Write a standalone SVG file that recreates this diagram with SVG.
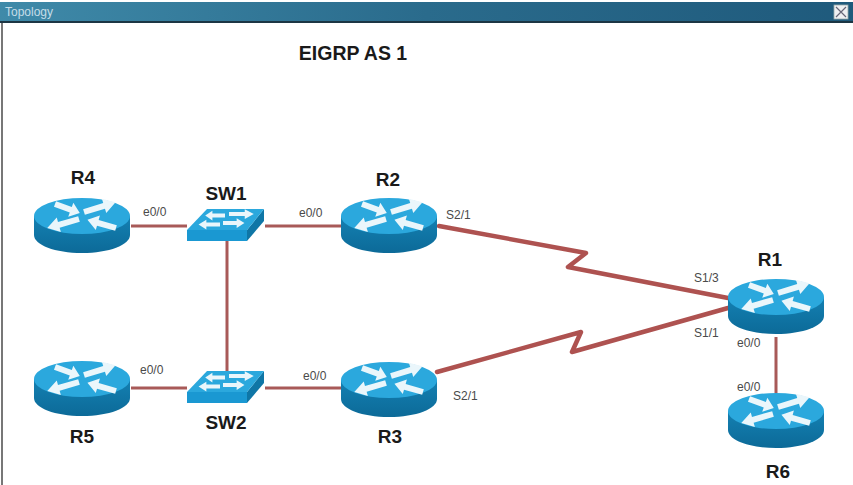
<svg xmlns="http://www.w3.org/2000/svg" width="853" height="485" viewBox="0 0 853 485">
<style>
text{font-family:"Liberation Sans",Arial,sans-serif}
.name{font-size:19px;font-weight:bold;fill:#1a1a1a;text-anchor:middle}
.port{font-size:12px;fill:#4a4a4a}
.lan{stroke:#a85a58;stroke-width:3;fill:none}
.wan{stroke:#ae5250;stroke-width:4.5;fill:none;stroke-linejoin:round;stroke-linecap:round}
.ar{fill:#eaf6fb}
</style>
<defs>
<linearGradient id="bar" x1="0" x2="1" y1="0" y2="0"><stop offset="0" stop-color="#3f8aa9"/><stop offset=".5" stop-color="#2a6b8c"/><stop offset="1" stop-color="#1f5a7c"/></linearGradient>
<linearGradient id="side" x1="0" x2="0" y1="0" y2="1"><stop offset="0" stop-color="#1480b2"/><stop offset="1" stop-color="#0c6a98"/></linearGradient>
<path id="a" d="M0 -2.6H21V-6.5L33 0L21 6.5V2.6H0Z"/>
<g id="rt">
<path d="M0 18V37C0 47 21 55 48 55S96 47 96 37V18Z" fill="url(#side)"/>
<ellipse cx="48" cy="18" rx="48" ry="18" fill="#2ba8dd"/>
<g class="ar">
<use href="#a" transform="translate(21 6) rotate(20) scale(.8 1.15)"/>
<use href="#a" transform="translate(50 14) rotate(-17) scale(1 1.15)"/>
<use href="#a" transform="translate(45 21) rotate(164) scale(1 1.15)"/>
<use href="#a" transform="translate(82 30) rotate(196) scale(.9 1.15)"/>
</g>
</g>
<g id="sw">
<path d="M0 21H60V32H0Z" fill="#1a98d2"/>
<path d="M60 21L77 0V12L60 32Z" fill="#0f76a6"/>
<path d="M0 21L20 0H77L60 21Z" fill="#2ba8dd"/>
<g class="ar">
<use href="#a" transform="translate(38 6.5) rotate(180) scale(.6 .75)"/>
<use href="#a" transform="translate(42 5) scale(.75 .75)"/>
<use href="#a" transform="translate(33 15.5) rotate(180) scale(.65 .75)"/>
<use href="#a" transform="translate(36 14) scale(.65 .75)"/>
</g>
</g>
</defs>
<rect width="853" height="485" fill="#fff"/>
<g id="window">
<rect x="0" y="2" width="853" height="19" fill="url(#bar)"/>
<rect x="0" y="21" width="853" height="2" fill="#1c3644"/>
<rect x="1" y="23" width="2" height="462" fill="#777"/>
<text x="5" y="16" font-size="12" fill="#c5dde8">Topology</text>
<rect x="834" y="5" width="14" height="14" fill="#eef0f2" stroke="#9aa" stroke-width=".8"/>
<path d="M836 7L846 17M846 7L836 17" stroke="#667" stroke-width="1.2"/>
</g>
<text x="353" y="60" text-anchor="middle" font-size="19.5" font-weight="bold" fill="#1a1a1a">EIGRP AS 1</text>
<g id="connectors">
<path class="lan" d="M131 226H187M265 226H341M227 241V371M131 388H187M265 388H341M776 337V393"/>
<path class="wan" d="M439 226L586 253L568 267L728 298"/>
<path class="wan" d="M437 372L581 332L572 352L728 308"/>
</g>
<g id="R4"><use href="#rt" x="34" y="198"/><text class="name" x="83" y="184">R4</text><text class="port" x="143" y="216">e0/0</text></g>
<g id="SW1"><use href="#sw" x="187" y="209"/><text class="name" x="226" y="200">SW1</text><text class="port" x="299" y="217">e0/0</text></g>
<g id="R2"><use href="#rt" x="341" y="198"/><text class="name" x="388" y="186">R2</text><text class="port" x="446" y="219">S2/1</text></g>
<g id="R5"><use href="#rt" x="34" y="361"/><text class="name" x="82" y="443">R5</text><text class="port" x="140" y="374">e0/0</text></g>
<g id="SW2"><use href="#sw" x="187" y="371"/><text class="name" x="226" y="429">SW2</text><text class="port" x="303" y="380">e0/0</text></g>
<g id="R3"><use href="#rt" x="341" y="362"/><text class="name" x="390" y="443">R3</text><text class="port" x="453" y="400">S2/1</text></g>
<g id="R1"><use href="#rt" x="728" y="279"/><text class="name" x="770" y="266">R1</text><text class="port" x="694" y="282">S1/3</text><text class="port" x="694" y="337">S1/1</text><text class="port" x="737" y="347">e0/0</text></g>
<g id="R6"><use href="#rt" x="728" y="393"/><text class="name" x="778" y="478">R6</text><text class="port" x="737" y="391">e0/0</text></g>
</svg>
